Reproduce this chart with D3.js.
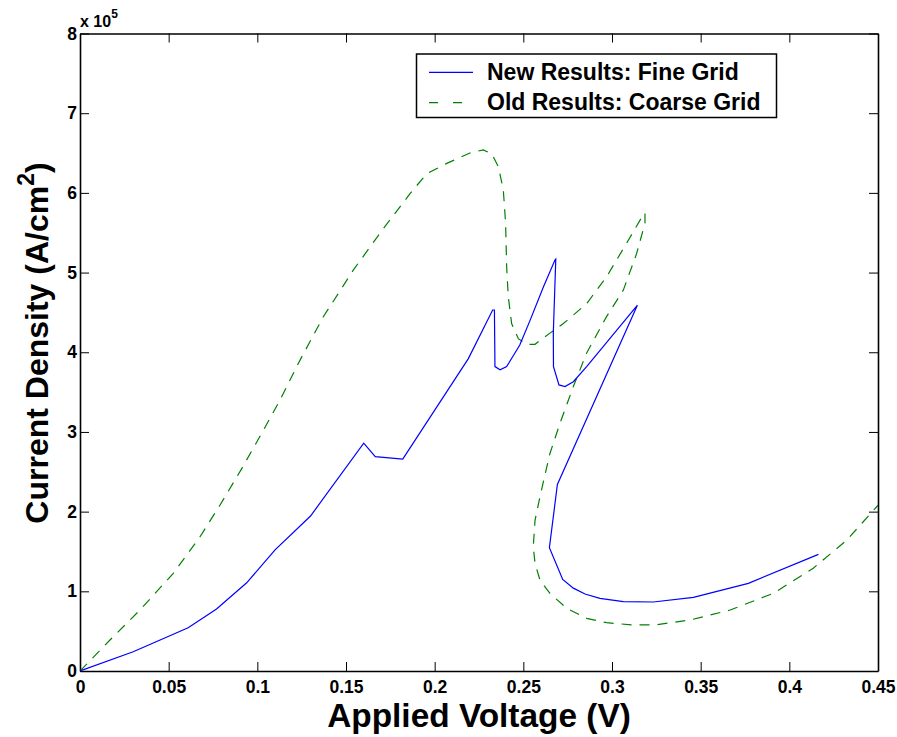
<!DOCTYPE html>
<html>
<head>
<meta charset="utf-8">
<script src="https://cdn.jsdelivr.net/npm/d3@7"></script>
<style>
  body { margin: 0; background: #fff; }
  svg { font-family: "Liberation Sans", Arial, Helvetica, sans-serif; }
</style>
</head>
<body>
<svg id="chart"></svg>
<script>
// applied voltage (V) vs current density (x 1e5 A/cm^2)
const fineGrid = [
  [0, 0], [0.030, 0.242], [0.061, 0.543], [0.077, 0.778], [0.094, 1.107],
  [0.110, 1.52], [0.130, 1.945], [0.160, 2.86], [0.1665, 2.69], [0.182, 2.66],
  [0.219, 3.92], [0.2327, 4.53], [0.2337, 4.53], [0.234, 3.82], [0.2369, 3.78],
  [0.2406, 3.82], [0.248, 4.09], [0.2538, 4.40], [0.2613, 4.82], [0.2679, 5.16],
  [0.2683, 5.17], [0.2669, 4.24], [0.267, 3.82], [0.2701, 3.59], [0.2735, 3.57],
  [0.2782, 3.63], [0.2857, 3.82], [0.3139, 4.58], [0.3143, 4.59], [0.2692, 2.34],
  [0.2647, 1.547], [0.2722, 1.15], [0.2782, 1.04], [0.2848, 0.966], [0.2932, 0.912],
  [0.3064, 0.870], [0.3233, 0.866], [0.3459, 0.925], [0.3769, 1.10], [0.4164, 1.464]
];

const coarseGrid = [
  [0, 0], [0.0169, 0.389], [0.0338, 0.765], [0.0526, 1.226], [0.0677, 1.685],
  [0.0789, 2.08], [0.0912, 2.54], [0.1034, 3.02], [0.1128, 3.40], [0.1231, 3.86],
  [0.1372, 4.445], [0.1541, 5.03], [0.171, 5.55], [0.1861, 5.99], [0.1955, 6.24],
  [0.2068, 6.37], [0.2199, 6.50], [0.2274, 6.54], [0.2322, 6.49], [0.2359, 6.33],
  [0.2387, 6.04], [0.2400, 5.62], [0.2406, 5.07], [0.2415, 4.70], [0.2434, 4.36],
  [0.2472, 4.17], [0.2519, 4.10], [0.2566, 4.10], [0.265, 4.24], [0.2726, 4.36],
  [0.2857, 4.61], [0.297, 4.95], [0.3083, 5.37], [0.3177, 5.73], [0.3186, 5.75],
  [0.3186, 5.62], [0.3139, 5.24], [0.3064, 4.78], [0.297, 4.45], [0.2857, 3.99],
  [0.2782, 3.57], [0.2707, 3.11], [0.265, 2.73], [0.2594, 2.19], [0.2566, 1.89],
  [0.2556, 1.56], [0.2566, 1.35], [0.2594, 1.14], [0.265, 0.975], [0.2744, 0.787],
  [0.2857, 0.661], [0.297, 0.606], [0.312, 0.577], [0.3252, 0.581], [0.344, 0.64],
  [0.3666, 0.765], [0.391, 0.975], [0.4135, 1.29], [0.4323, 1.64], [0.45, 2.08]
];

const xTicks = [0, 0.05, 0.1, 0.15, 0.2, 0.25, 0.3, 0.35, 0.4, 0.45];
const yTicks = [0, 1, 2, 3, 4, 5, 6, 7, 8];
const legendLabels = ["New Results: Fine Grid", "Old Results: Coarse Grid"];

const width = 897, height = 737;
const margin = { top: 33.5, right: 19, bottom: 66, left: 80 };
const innerWidth = width - margin.left - margin.right;
const innerHeight = height - margin.top - margin.bottom;

const svg = d3.select("#chart").attr("width", width).attr("height", height);

const x = d3.scaleLinear().domain([0, 0.45]).range([0, innerWidth]);
const y = d3.scaleLinear().domain([0, 8]).range([innerHeight, 0]);

const g = svg.append("g").attr("transform", `translate(${margin.left},${margin.top})`);

g.append("clipPath").attr("id", "clip")
  .append("rect").attr("width", innerWidth).attr("height", innerHeight);

const fmt = d => String(+d.toFixed(2));

// axes, ticks pointing inward on all four sides
g.append("g").attr("transform", `translate(0,${innerHeight})`)
  .call(d3.axisBottom(x).tickValues(xTicks).tickFormat(fmt).tickSizeInner(-9).tickSizeOuter(0).tickPadding(9.5));
g.append("g")
  .call(d3.axisLeft(y).tickValues(yTicks).tickFormat(fmt).tickSizeInner(-9).tickSizeOuter(0).tickPadding(3));
g.append("g")
  .call(d3.axisTop(x).tickValues(xTicks).tickFormat("").tickSizeInner(-9).tickSizeOuter(0));
g.append("g").attr("transform", `translate(${innerWidth},0)`)
  .call(d3.axisRight(y).tickValues(yTicks).tickFormat("").tickSizeInner(-9).tickSizeOuter(0));

g.selectAll(".domain").attr("stroke", "#000").attr("stroke-width", 1.6);
g.selectAll(".tick line").attr("stroke", "#000").attr("stroke-width", 1);
g.selectAll(".tick text")
  .attr("font-family", "'Liberation Sans', Arial, sans-serif")
  .attr("font-size", 17.5).attr("font-weight", "bold").attr("fill", "#000");

// curves
const line = d3.line().x(d => x(d[0])).y(d => y(d[1]));

g.append("path").datum(coarseGrid)
  .attr("clip-path", "url(#clip)")
  .attr("fill", "none").attr("stroke", "#008000").attr("stroke-width", 1.2)
  .attr("stroke-dasharray", "10,8")
  .attr("d", line);

g.append("path").datum(fineGrid)
  .attr("clip-path", "url(#clip)")
  .attr("fill", "none").attr("stroke", "#0000ff").attr("stroke-width", 1.2)
  .attr("d", line);

// exponent label
const expo = svg.append("text").attr("x", 80).attr("y", 26.5)
  .attr("font-size", 16).attr("font-weight", "bold");
expo.append("tspan").text("x 10");
expo.append("tspan").attr("dy", -8.5).attr("font-size", 12).text("5");

// axis titles
svg.append("text")
  .attr("x", margin.left + innerWidth / 2).attr("y", 727)
  .attr("text-anchor", "middle").attr("font-size", 33.4).attr("font-weight", "bold")
  .text("Applied Voltage (V)");

const yTitle = svg.append("text")
  .attr("transform", "translate(48,343) rotate(-90)")
  .attr("text-anchor", "middle").attr("font-size", 32).attr("font-weight", "bold");
yTitle.append("tspan").text("Current Density (A/cm");
yTitle.append("tspan").attr("dy", -14).attr("font-size", 23).text("2");
yTitle.append("tspan").attr("dy", 14).text(")");

// legend
const legend = svg.append("g");
legend.append("rect")
  .attr("x", 416.5).attr("y", 54).attr("width", 360).attr("height", 63.5)
  .attr("fill", "#fff").attr("stroke", "#000").attr("stroke-width", 1.5);

const legendStyles = [
  { color: "#0000ff", dash: null, ly: 72.3, ty: 79.5 },
  { color: "#008000", dash: "9,15", ly: 102.7, ty: 109.5 }
];
legendLabels.forEach((label, i) => {
  const s = legendStyles[i];
  legend.append("line")
    .attr("x1", 429).attr("x2", 473).attr("y1", s.ly).attr("y2", s.ly)
    .attr("stroke", s.color).attr("stroke-width", 1.2)
    .attr("stroke-dasharray", s.dash);
  legend.append("text")
    .attr("x", 487).attr("y", s.ty)
    .attr("font-size", 23).attr("font-weight", "bold")
    .text(label);
});
</script>
</body>
</html>
